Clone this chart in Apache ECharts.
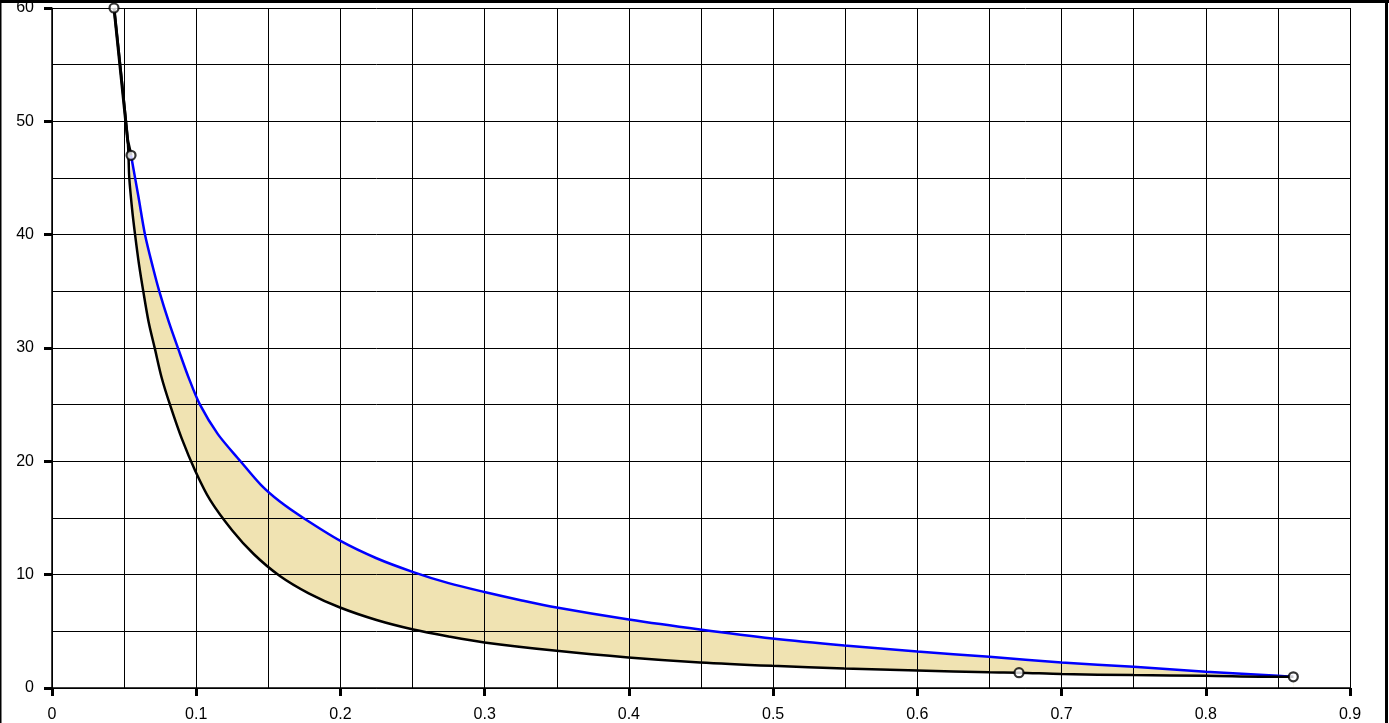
<!DOCTYPE html>
<html>
<head>
<meta charset="utf-8">
<script src="https://cdn.jsdelivr.net/npm/echarts@6/dist/echarts.min.js"></script>
<style>
html,body{margin:0;padding:0;background:#fff;}
#c{width:1389px;height:723px;}
</style>
</head>
<body>
<div id="c"></div>
<script>
// Upper (blue) curve
var blueX = [0.0548, 0.0600, 0.0645, 0.0700, 0.0744, 0.0810, 0.0876, 0.0950, 0.1026, 0.1150, 0.1304, 0.1450, 0.1580, 0.1743, 0.1997, 0.2250, 0.2505, 0.2750, 0.2998, 0.3250, 0.3499, 0.4000, 0.4493, 0.4994, 0.5494, 0.6000, 0.6500, 0.7000, 0.7500, 0.8000, 0.8500, 0.8607];
var blueY = [47.0, 43.3, 40.0, 37.1, 35.0, 32.3, 29.9, 27.3, 25.0, 22.4, 20.05, 17.9, 16.45, 15.0, 13.0, 11.45, 10.23, 9.25, 8.47, 7.75, 7.1, 6.04, 5.16, 4.37, 3.75, 3.22, 2.75, 2.26, 1.87, 1.43, 1.08, 0.99];
// Lower (black) curve
var blackX = [0.0430, 0.0525, 0.0536, 0.0555, 0.0576, 0.0603, 0.0633, 0.0670, 0.0714, 0.0760, 0.0818, 0.0900, 0.0992, 0.1096, 0.1250, 0.1400, 0.1580, 0.1780, 0.1997, 0.2250, 0.2505, 0.2750, 0.2998, 0.3499, 0.3996, 0.4493, 0.4994, 0.5494, 0.6000, 0.6500, 0.6705, 0.7000, 0.7500, 0.8000, 0.8500, 0.8607];
var blackY = [60.0, 48.3, 45.0, 42.3, 40.0, 37.4, 35.0, 32.3, 29.9, 27.4, 25.0, 22.0, 19.2, 16.6, 13.9, 11.8, 9.88, 8.35, 7.1, 6.0, 5.16, 4.55, 4.02, 3.28, 2.70, 2.26, 1.96, 1.73, 1.55, 1.38, 1.35, 1.23, 1.14, 1.08, 0.99, 0.99];
// Short connector to the start of the blue curve
var linkX = [0.0430, 0.0525, 0.0548];
var linkY = [60.0, 48.3, 47.0];
// Marked points
var markX = [0.0430, 0.0548, 0.6705, 0.8607];
var markY = [60.0, 47.0, 1.35, 0.99];
// Axis ranges / ticks
var xMin = 0, xMax = 0.9, xStep = 0.1;
var yMin = 0, yMax = 60, yStep = 10;

function zip(a, b) { return a.map(function (v, i) { return [v, b[i]]; }); }

var chart = echarts.init(document.getElementById('c'), null, {renderer: 'canvas'});

var font = 'Liberation Sans';
var SM = 0.3;
var option = {
  animation: false,
  backgroundColor: '#ffffff',
  grid: {left: 52, right: 39, top: 6, bottom: 35, containLabel: false},
  xAxis: {
    type: 'value', min: xMin, max: xMax, interval: xStep, z: 3,
    axisLine: {show: true, onZero: false, lineStyle: {color: '#000', width: 1.5}},
    axisTick: {show: true, length: 8, lineStyle: {color: '#000', width: 3}},
    axisLabel: {color: '#000', fontSize: 16, fontFamily: font, margin: 19,
      formatter: function (v) { return String(Math.round(v * 10) / 10); }},
    splitLine: {show: true, lineStyle: {color: '#000', width: 1}},
    minorTick: {show: false, splitNumber: 2},
    minorSplitLine: {show: true, lineStyle: {color: '#000', width: 1}}
  },
  yAxis: {
    type: 'value', min: yMin, max: yMax, interval: yStep, z: 3,
    axisLine: {show: true, onZero: false, lineStyle: {color: '#000', width: 1.5}},
    axisTick: {show: true, length: 8, lineStyle: {color: '#000', width: 3}},
    axisLabel: {color: '#000', fontSize: 16, fontFamily: font, margin: 18},
    splitLine: {show: true, lineStyle: {color: '#000', width: 1}},
    minorTick: {show: false, splitNumber: 2},
    minorSplitLine: {show: true, lineStyle: {color: '#000', width: 1}}
  },
  series: [
    {
      // band fill: tan under the upper curve
      type: 'line', z: 1, data: zip(blueX, blueY), showSymbol: false, symbol: 'none',
      smooth: SM, silent: true,
      lineStyle: {width: 0, opacity: 0},
      areaStyle: {color: '#f0e3b2', opacity: 1, origin: 'start'}
    },
    {
      // white under the lower curve to leave only the band
      type: 'line', z: 2, data: zip(blackX, blackY), showSymbol: false, symbol: 'none',
      smooth: SM, silent: true,
      lineStyle: {width: 0, opacity: 0},
      areaStyle: {color: '#ffffff', opacity: 1, origin: 'start'}
    },
    {
      type: 'line', z: 5, data: zip(blueX, blueY), showSymbol: false, symbol: 'none',
      smooth: SM,
      lineStyle: {color: '#0000ff', width: 2.5}
    },
    {
      type: 'line', z: 6, data: zip(blackX, blackY), showSymbol: false, symbol: 'none',
      smooth: SM,
      lineStyle: {color: '#000000', width: 2.5}
    },
    {
      type: 'line', z: 6, data: zip(linkX, linkY), showSymbol: false, symbol: 'none',
      lineStyle: {color: '#000000', width: 3}
    },
    {
      type: 'scatter', z: 7, data: zip(markX, markY),
      symbol: 'circle', symbolSize: 9,
      itemStyle: {color: '#ffffff', borderColor: '#000000', borderWidth: 2.2}
    }
  ],
  graphic: [
    {type: 'rect', left: 0, top: 0, z: 100, shape: {width: 1389, height: 3}, style: {fill: '#000'}},
    {type: 'rect', left: 0, top: 0, z: 100, shape: {width: 1.5, height: 723}, style: {fill: '#000'}},
    {type: 'rect', left: 1385, top: 0, z: 100, shape: {width: 3, height: 723}, style: {fill: '#000'}}
  ]
};
chart.setOption(option);
</script>
</body>
</html>
